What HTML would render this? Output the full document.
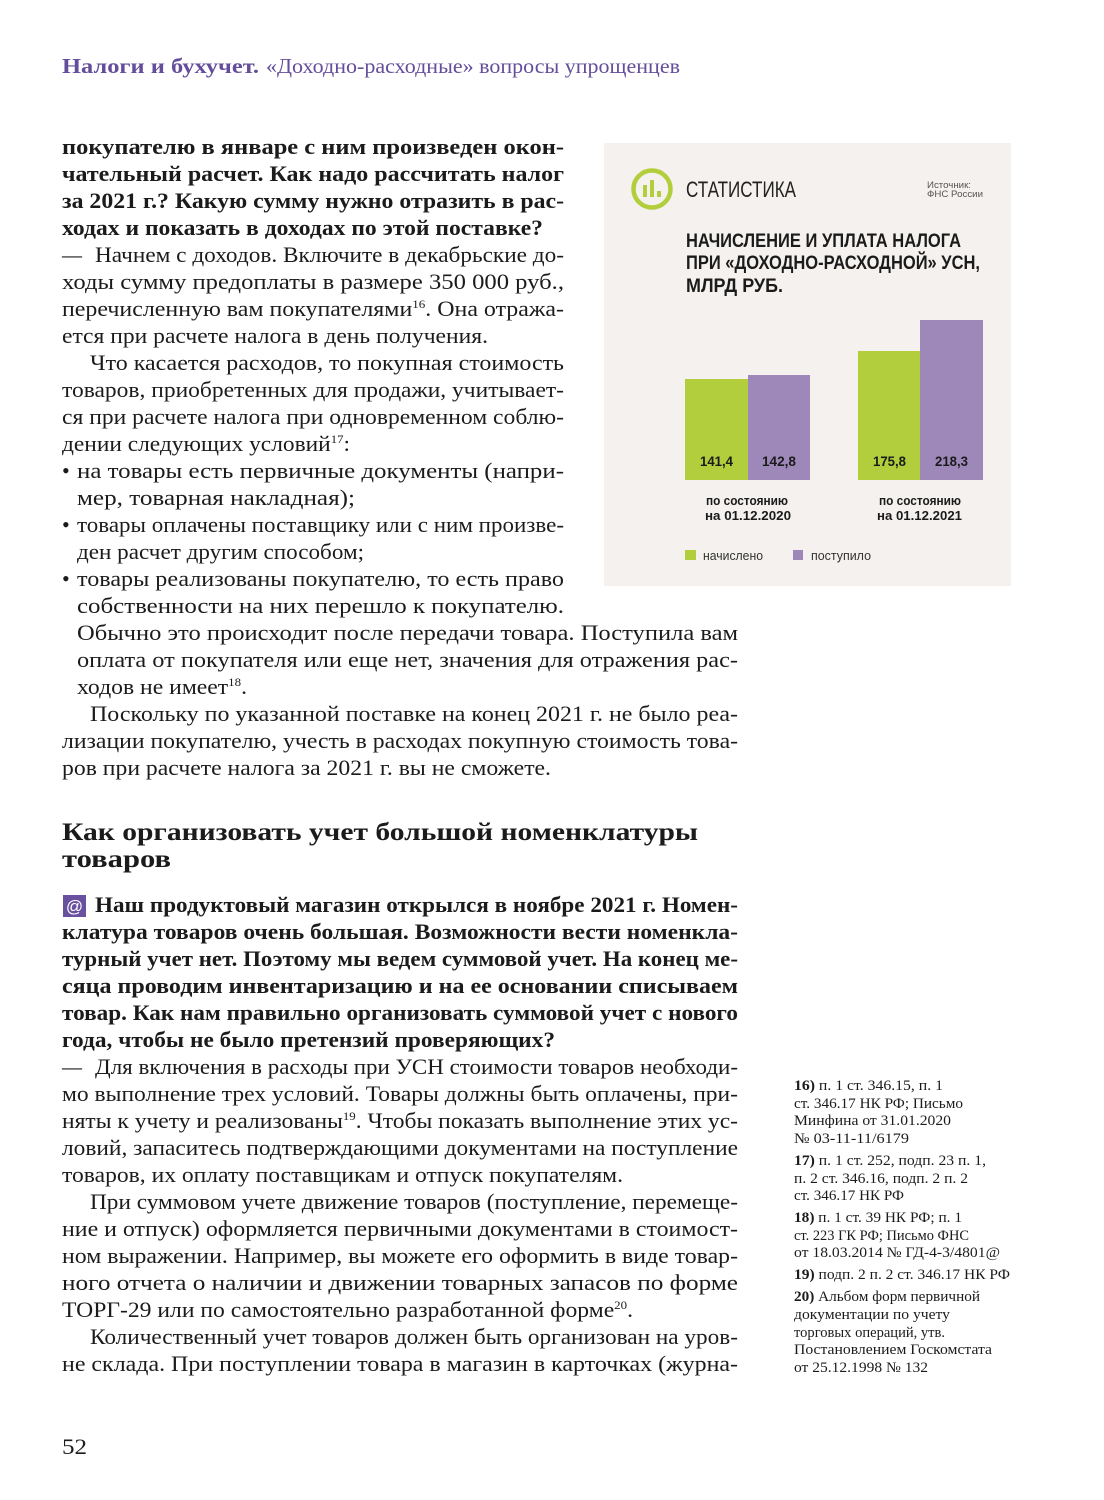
<!DOCTYPE html>
<html><head><meta charset="utf-8">
<style>
html,body{margin:0;padding:0;background:#fff;}
svg{display:block;}
.b{font-family:"Liberation Serif","Noto Serif CJK SC",serif;font-size:22px;fill:#1b1b1b;}
.bb{font-family:"Liberation Serif","Noto Serif CJK SC",serif;font-size:22px;font-weight:bold;fill:#1b1b1b;}
.h{font-family:"Liberation Serif","Noto Serif CJK SC",serif;font-size:25px;font-weight:bold;fill:#1b1b1b;}
.fn{font-family:"Liberation Serif","Noto Serif CJK SC",serif;font-size:14.5px;fill:#1b1b1b;}
.s{font-family:"Liberation Sans","Noto Sans CJK SC",sans-serif;}
</style></head>
<body>
<svg width="1104" height="1500" viewBox="0 0 1104 1500" xmlns="http://www.w3.org/2000/svg">
<rect width="1104" height="1500" fill="#fff"/>

<!-- header -->
<text x="62" y="73" font-family="Liberation Serif, serif" font-size="21" font-weight="bold" fill="#644e9b" textLength="197" lengthAdjust="spacingAndGlyphs">Налоги и бухучет.</text>
<text x="266" y="73" font-family="Liberation Serif, serif" font-size="21" fill="#644e9b" textLength="414" lengthAdjust="spacingAndGlyphs">«Доходно-расходные» вопросы упрощенцев</text>

<!-- narrow column -->
<text class="bb" x="62" y="154" textLength="502" lengthAdjust="spacingAndGlyphs">покупателю в январе с ним произведен окон-</text>
<text class="bb" x="62" y="181" textLength="502" lengthAdjust="spacingAndGlyphs">чательный расчет. Как надо рассчитать налог</text>
<text class="bb" x="62" y="208" textLength="502" lengthAdjust="spacingAndGlyphs">за 2021 г.? Какую сумму нужно отразить в рас-</text>
<text class="bb" x="62" y="235" textLength="481" lengthAdjust="spacingAndGlyphs">ходах и показать в доходах по этой поставке?</text>
<text class="b" x="62" y="262" textLength="20" lengthAdjust="spacingAndGlyphs">—</text>
<text class="b" x="95" y="262" textLength="469" lengthAdjust="spacingAndGlyphs">Начнем с доходов. Включите в декабрьские до-</text>
<text class="b" x="62" y="289" textLength="502" lengthAdjust="spacingAndGlyphs">ходы сумму предоплаты в размере 350 000 руб.,</text>
<text class="b" x="62" y="316" textLength="502" lengthAdjust="spacingAndGlyphs">перечисленную вам покупателями<tspan font-size="12" dy="-8">16</tspan><tspan dy="8">. Она отража-</tspan></text>
<text class="b" x="62" y="343" textLength="426" lengthAdjust="spacingAndGlyphs">ется при расчете налога в день получения.</text>
<text class="b" x="90" y="370" textLength="474" lengthAdjust="spacingAndGlyphs">Что касается расходов, то покупная стоимость</text>
<text class="b" x="62" y="397" textLength="502" lengthAdjust="spacingAndGlyphs">товаров, приобретенных для продажи, учитывает-</text>
<text class="b" x="62" y="424" textLength="502" lengthAdjust="spacingAndGlyphs">ся при расчете налога при одновременном соблю-</text>
<text class="b" x="62" y="451" textLength="288" lengthAdjust="spacingAndGlyphs">дении следующих условий<tspan font-size="12" dy="-8">17</tspan><tspan dy="8">:</tspan></text>
<text class="b" x="62" y="478">•</text>
<text class="b" x="77" y="478" textLength="487" lengthAdjust="spacingAndGlyphs">на товары есть первичные документы (напри-</text>
<text class="b" x="77" y="505" textLength="278" lengthAdjust="spacingAndGlyphs">мер, товарная накладная);</text>
<text class="b" x="62" y="532">•</text>
<text class="b" x="77" y="532" textLength="487" lengthAdjust="spacingAndGlyphs">товары оплачены поставщику или с ним произве-</text>
<text class="b" x="77" y="559" textLength="287" lengthAdjust="spacingAndGlyphs">ден расчет другим способом;</text>
<text class="b" x="62" y="586">•</text>
<text class="b" x="77" y="586" textLength="487" lengthAdjust="spacingAndGlyphs">товары реализованы покупателю, то есть право</text>
<text class="b" x="77" y="613" textLength="487" lengthAdjust="spacingAndGlyphs">собственности на них перешло к покупателю.</text>
<text class="b" x="77" y="640" textLength="661" lengthAdjust="spacingAndGlyphs">Обычно это происходит после передачи товара. Поступила вам</text>
<text class="b" x="77" y="667" textLength="661" lengthAdjust="spacingAndGlyphs">оплата от покупателя или еще нет, значения для отражения рас-</text>
<text class="b" x="77" y="694" textLength="170" lengthAdjust="spacingAndGlyphs">ходов не имеет<tspan font-size="12" dy="-8">18</tspan><tspan dy="8">.</tspan></text>
<text class="b" x="90" y="721" textLength="648" lengthAdjust="spacingAndGlyphs">Поскольку по указанной поставке на конец 2021 г. не было реа-</text>
<text class="b" x="62" y="748" textLength="676" lengthAdjust="spacingAndGlyphs">лизации покупателю, учесть в расходах покупную стоимость това-</text>
<text class="b" x="62" y="775" textLength="489" lengthAdjust="spacingAndGlyphs">ров при расчете налога за 2021 г. вы не сможете.</text>

<!-- heading -->
<text class="h" x="62" y="840" textLength="636" lengthAdjust="spacingAndGlyphs">Как организовать учет большой номенклатуры</text>
<text class="h" x="62" y="867" textLength="109" lengthAdjust="spacingAndGlyphs">товаров</text>

<!-- question -->
<rect x="63" y="895" width="23" height="22" fill="#6a519f"/>
<text x="74.5" y="912" font-family="Liberation Sans, sans-serif" font-size="17" fill="#fff" text-anchor="middle">@</text>
<text class="bb" x="95" y="912" textLength="643" lengthAdjust="spacingAndGlyphs">Наш продуктовый магазин открылся в ноябре 2021 г. Номен-</text>
<text class="bb" x="62" y="939" textLength="676" lengthAdjust="spacingAndGlyphs">клатура товаров очень большая. Возможности вести номенкла-</text>
<text class="bb" x="62" y="966" textLength="676" lengthAdjust="spacingAndGlyphs">турный учет нет. Поэтому мы ведем суммовой учет. На конец ме-</text>
<text class="bb" x="62" y="993" textLength="676" lengthAdjust="spacingAndGlyphs">сяца проводим инвентаризацию и на ее основании списываем</text>
<text class="bb" x="62" y="1020" textLength="676" lengthAdjust="spacingAndGlyphs">товар. Как нам правильно организовать суммовой учет с нового</text>
<text class="bb" x="62" y="1047" textLength="493" lengthAdjust="spacingAndGlyphs">года, чтобы не было претензий проверяющих?</text>

<!-- answer -->
<text class="b" x="62" y="1074" textLength="20" lengthAdjust="spacingAndGlyphs">—</text>
<text class="b" x="95" y="1074" textLength="643" lengthAdjust="spacingAndGlyphs">Для включения в расходы при УСН стоимости товаров необходи-</text>
<text class="b" x="62" y="1101" textLength="676" lengthAdjust="spacingAndGlyphs">мо выполнение трех условий. Товары должны быть оплачены, при-</text>
<text class="b" x="62" y="1128" textLength="676" lengthAdjust="spacingAndGlyphs">няты к учету и реализованы<tspan font-size="12" dy="-8">19</tspan><tspan dy="8">. Чтобы показать выполнение этих ус-</tspan></text>
<text class="b" x="62" y="1155" textLength="676" lengthAdjust="spacingAndGlyphs">ловий, запаситесь подтверждающими документами на поступление</text>
<text class="b" x="62" y="1182" textLength="561" lengthAdjust="spacingAndGlyphs">товаров, их оплату поставщикам и отпуск покупателям.</text>
<text class="b" x="90" y="1209" textLength="648" lengthAdjust="spacingAndGlyphs">При суммовом учете движение товаров (поступление, перемеще-</text>
<text class="b" x="62" y="1236" textLength="676" lengthAdjust="spacingAndGlyphs">ние и отпуск) оформляется первичными документами в стоимост-</text>
<text class="b" x="62" y="1263" textLength="676" lengthAdjust="spacingAndGlyphs">ном выражении. Например, вы можете его оформить в виде товар-</text>
<text class="b" x="62" y="1290" textLength="676" lengthAdjust="spacingAndGlyphs">ного отчета о наличии и движении товарных запасов по форме</text>
<text class="b" x="62" y="1317" textLength="571" lengthAdjust="spacingAndGlyphs">ТОРГ-29 или по самостоятельно разработанной форме<tspan font-size="12" dy="-8">20</tspan><tspan dy="8">.</tspan></text>
<text class="b" x="90" y="1344" textLength="648" lengthAdjust="spacingAndGlyphs">Количественный учет товаров должен быть организован на уров-</text>
<text class="b" x="62" y="1371" textLength="676" lengthAdjust="spacingAndGlyphs">не склада. При поступлении товара в магазин в карточках (журна-</text>

<!-- page number -->
<text x="62" y="1454" font-family="Liberation Serif, serif" font-size="22" fill="#1b1b1b" textLength="25" lengthAdjust="spacingAndGlyphs">52</text>

<!-- footnotes -->
<text class="fn" x="794" y="1090" textLength="149" lengthAdjust="spacingAndGlyphs"><tspan font-weight="bold">16)</tspan> п. 1 ст. 346.15, п. 1</text>
<text class="fn" x="794" y="1108" textLength="169" lengthAdjust="spacingAndGlyphs">ст. 346.17 НК РФ; Письмо</text>
<text class="fn" x="794" y="1125" textLength="157" lengthAdjust="spacingAndGlyphs">Минфина от 31.01.2020</text>
<text class="fn" x="794" y="1143" textLength="115" lengthAdjust="spacingAndGlyphs">№ 03-11-11/6179</text>
<text class="fn" x="794" y="1165" textLength="192" lengthAdjust="spacingAndGlyphs"><tspan font-weight="bold">17)</tspan> п. 1 ст. 252, подп. 23 п. 1,</text>
<text class="fn" x="794" y="1183" textLength="174" lengthAdjust="spacingAndGlyphs">п. 2 ст. 346.16, подп. 2 п. 2</text>
<text class="fn" x="794" y="1200" textLength="110" lengthAdjust="spacingAndGlyphs">ст. 346.17 НК РФ</text>
<text class="fn" x="794" y="1222" textLength="168" lengthAdjust="spacingAndGlyphs"><tspan font-weight="bold">18)</tspan> п. 1 ст. 39 НК РФ; п. 1</text>
<text class="fn" x="794" y="1240" textLength="175" lengthAdjust="spacingAndGlyphs">ст. 223 ГК РФ; Письмо ФНС</text>
<text class="fn" x="794" y="1257" textLength="206" lengthAdjust="spacingAndGlyphs">от 18.03.2014 № ГД-4-3/4801@</text>
<text class="fn" x="794" y="1279" textLength="216" lengthAdjust="spacingAndGlyphs"><tspan font-weight="bold">19)</tspan> подп. 2 п. 2 ст. 346.17 НК РФ</text>
<text class="fn" x="794" y="1301" textLength="186" lengthAdjust="spacingAndGlyphs"><tspan font-weight="bold">20)</tspan> Альбом форм первичной</text>
<text class="fn" x="794" y="1319" textLength="156" lengthAdjust="spacingAndGlyphs">документации по учету</text>
<text class="fn" x="794" y="1337" textLength="151" lengthAdjust="spacingAndGlyphs">торговых операций, утв.</text>
<text class="fn" x="794" y="1354" textLength="198" lengthAdjust="spacingAndGlyphs">Постановлением Госкомстата</text>
<text class="fn" x="794" y="1372" textLength="134" lengthAdjust="spacingAndGlyphs">от 25.12.1998 № 132</text>

<!-- chart box -->
<rect x="604" y="143" width="407" height="443" fill="#f4f1ee"/>
<circle cx="652" cy="189" r="18.5" fill="none" stroke="#b2ce3c" stroke-width="4.5"/>
<rect x="643" y="185" width="4" height="12" fill="#b2ce3c"/>
<rect x="650" y="180" width="4" height="17" fill="#b2ce3c"/>
<rect x="657" y="191" width="4" height="6" fill="#b2ce3c"/>
<text class="s" x="686" y="197" font-size="22" fill="#222" textLength="110" lengthAdjust="spacingAndGlyphs">СТАТИСТИКА</text>
<text class="s" x="927" y="188" font-size="9.5" fill="#555" textLength="44" lengthAdjust="spacingAndGlyphs">Источник:</text>
<text class="s" x="927" y="197" font-size="9.5" fill="#555" textLength="56" lengthAdjust="spacingAndGlyphs">ФНС России</text>

<text class="s" x="686" y="247" font-size="19.5" font-weight="bold" fill="#1b1b1b" textLength="275" lengthAdjust="spacingAndGlyphs">НАЧИСЛЕНИЕ И УПЛАТА НАЛОГА</text>
<text class="s" x="686" y="269" font-size="19.5" font-weight="bold" fill="#1b1b1b" textLength="294" lengthAdjust="spacingAndGlyphs">ПРИ «ДОХОДНО-РАСХОДНОЙ» УСН,</text>
<text class="s" x="686" y="292" font-size="19.5" font-weight="bold" fill="#1b1b1b" textLength="97" lengthAdjust="spacingAndGlyphs">МЛРД РУБ.</text>

<rect x="685" y="379" width="63" height="101" fill="#b2ce3c"/>
<rect x="748" y="375" width="62" height="105" fill="#9e88ba"/>
<rect x="858" y="351" width="62" height="129" fill="#b2ce3c"/>
<rect x="920" y="320" width="63" height="160" fill="#9e88ba"/>

<text class="s" x="700" y="466" font-size="14" font-weight="bold" fill="#1b1b1b" textLength="33" lengthAdjust="spacingAndGlyphs">141,4</text>
<text class="s" x="762" y="466" font-size="14" font-weight="bold" fill="#1b1b1b" textLength="34" lengthAdjust="spacingAndGlyphs">142,8</text>
<text class="s" x="873" y="466" font-size="14" font-weight="bold" fill="#1b1b1b" textLength="33" lengthAdjust="spacingAndGlyphs">175,8</text>
<text class="s" x="935" y="466" font-size="14" font-weight="bold" fill="#1b1b1b" textLength="33" lengthAdjust="spacingAndGlyphs">218,3</text>

<text class="s" x="706" y="505" font-size="12.5" font-weight="bold" fill="#1b1b1b" textLength="82" lengthAdjust="spacingAndGlyphs">по состоянию</text>
<text class="s" x="705" y="520" font-size="13" font-weight="bold" fill="#1b1b1b" textLength="86" lengthAdjust="spacingAndGlyphs">на 01.12.2020</text>
<text class="s" x="879" y="505" font-size="12.5" font-weight="bold" fill="#1b1b1b" textLength="82" lengthAdjust="spacingAndGlyphs">по состоянию</text>
<text class="s" x="877" y="520" font-size="13" font-weight="bold" fill="#1b1b1b" textLength="85" lengthAdjust="spacingAndGlyphs">на 01.12.2021</text>

<rect x="685" y="550" width="11" height="10" fill="#b2ce3c"/>
<text class="s" x="703" y="560" font-size="13" fill="#333" textLength="60" lengthAdjust="spacingAndGlyphs">начислено</text>
<rect x="793" y="550" width="10" height="10" fill="#9e88ba"/>
<text class="s" x="811" y="560" font-size="13" fill="#333" textLength="60" lengthAdjust="spacingAndGlyphs">поступило</text>
</svg>
</body></html>
